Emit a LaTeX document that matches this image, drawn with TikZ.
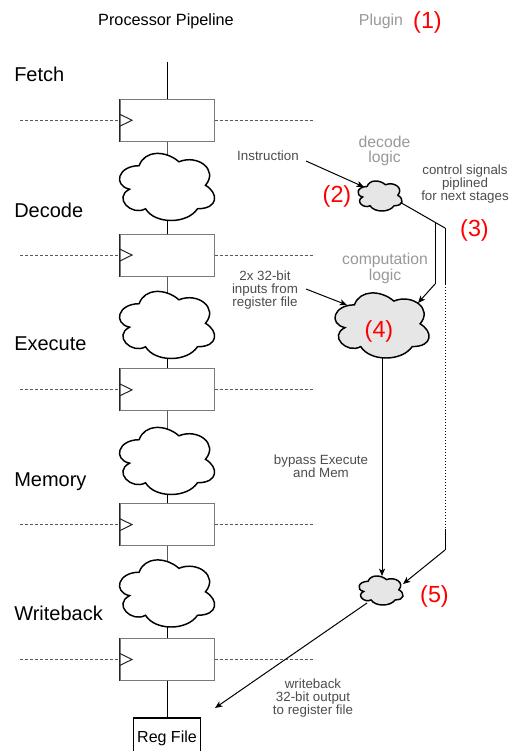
\documentclass[tikz,border=0pt]{standalone}
\usepackage{fontspec}
\setmainfont{Liberation Sans}
\usetikzlibrary{arrows.meta,calc}

\definecolor{labelgray}{HTML}{999999}
\definecolor{notegray}{HTML}{4D4D4D}
\definecolor{plugfill}{HTML}{E6E6E6}
\definecolor{boxgray}{HTML}{7A7A7A}
\definecolor{marker}{HTML}{FF0000}

% draw.io style cloud outline fitted to node #1, whose visible size is #2 x #3 (px)
\newcommand\cloudoutline[4]{%
  \pgfmathsetmacro\cloudw{#2/0.895}%
  \pgfmathsetmacro\cloudh{#3/0.856}%
  \begin{scope}[shift={(#1.center)},shift={(-0.5125*\cloudw,-0.522*\cloudh)},xscale=\cloudw,yscale=\cloudh]
    \path[#4] (0.25,0.25) .. controls (0.05,0.25) and (0,0.5) .. (0.16,0.55)
      .. controls (0,0.66) and (0.18,0.9) .. (0.31,0.8)
      .. controls (0.4,1) and (0.7,1) .. (0.8,0.8)
      .. controls (1,0.8) and (1,0.6) .. (0.875,0.5)
      .. controls (1,0.3) and (0.8,0.1) .. (0.625,0.2)
      .. controls (0.5,0.05) and (0.3,0.05) .. (0.25,0.25) -- cycle;
  \end{scope}}

\tikzset{
  wire/.style={line width=0.75pt, black},
  arr/.style={line width=0.75pt, black, -{Stealth[length=5.5pt,width=4.6pt,inset=1.4pt]}},
  sigdash/.style={line width=0.75pt, black!65, dash pattern=on 2.25pt off 1.5pt},
  dotline/.style={line width=0.75pt, black, dash pattern=on 0.75pt off 1.5pt},
  regbox/.style={draw=boxgray, fill=white, line width=0.75pt, minimum width=70.5pt, minimum height=31.5pt, inner sep=0pt},
  cloudbox/.style={rectangle, inner sep=0pt, outer sep=0pt},
  pipecloud/.style={draw=black, fill=white, line width=1.1pt},
  plugcloud/.style={draw=black, fill=plugfill, line width=1.1pt},
  stage/.style={anchor=base west, inner sep=0pt, font=\fontsize{15}{18}\selectfont},
  note/.style={inner sep=0pt, align=center, text=notegray, font=\fontsize{10}{10}\selectfont},
  logiclbl/.style={inner sep=0pt, align=center, text=labelgray, font=\fontsize{11.8}{10.8}\selectfont},
  redlbl/.style={inner sep=0pt, text=marker, font=\fontsize{17.5}{20}\selectfont},
  regfile/.style={draw=black, fill=white, line width=1.2pt, minimum width=50.25pt, minimum height=30pt, inner sep=0pt, font=\fontsize{12}{14}\selectfont}
}

\begin{document}
\begin{tikzpicture}[x=0.75pt,y=-0.75pt]
\path[use as bounding box, fill=white] (0,0) rectangle (512,751);

% headings
\node[anchor=base, inner sep=0pt, font=\fontsize{12.2}{14}\selectfont] (title) at (166,25) {Processor Pipeline};
\node[anchor=base, inner sep=0pt, text=labelgray, font=\fontsize{11.9}{14}\selectfont] (plugin) at (381,25) {Plugin};
\node[redlbl, anchor=base] (m1) at (427.5,28) {(1)};

% stage names
\node[stage] (sfetch) at (14,81) {Fetch};
\node[stage] (sdecode) at (14,217) {Decode};
\node[stage] (sexec) at (14,350) {Execute};
\node[stage] (smem) at (14,486) {Memory};
\node[stage] (swb) at (14,620) {Writeback};

% pipeline registers with their signal lines and clock inputs
\foreach \k/\y in {1/120.25,2/255.05,3/389.85,4/524.65,5/659.45}{
  \node[regbox] (reg\k) at (167,\y) {};
  \coordinate (dl\k) at (20,\y);
  \coordinate (dr\k) at (314,\y);
  \draw[sigdash] (dl\k) -- (reg\k.west);
  \draw[sigdash] (reg\k.east) -- (dr\k);
  \draw[line width=0.75pt, black!85] (reg\k.south west) -- (reg\k.north west);
  \draw[line width=0.75pt, black!85] ([yshift=4.6pt]reg\k.west) -- ([xshift=9.4pt]reg\k.west) -- ([yshift=-4.6pt]reg\k.west);
}

% combinational logic between the registers
\foreach \k/\y in {1/187,2/325,3/461,4/593.5}{
  \node[cloudbox, minimum width=71.25pt, minimum height=50.25pt] (pc\k) at (167,\y) {};
}

% register file
\node[regfile] (rf) at (167,738) {Reg File};

% main datapath
\coordinate (top) at (167,62);
\draw[wire] (top) -- (reg1.north);
\foreach \a/\b in {1/2,2/3,3/4,4/5}{
  \draw[wire] (reg\a.south) -- (pc\a.center) -- (reg\b.north);
}
\draw[wire] (reg5.south) -- (rf.north);

% plugin clouds
\node[cloudbox, minimum width=33pt, minimum height=22.5pt] (dec) at (380,196) {};
\node[cloudbox, minimum width=70.5pt, minimum height=48.75pt] (comp) at (382,325.5) {};
\node[cloudbox, minimum width=33pt, minimum height=21.75pt] (wbc) at (381,590.5) {};

% labels
\node[note] (instr) at (268,156) {Instruction};
\node[logiclbl] (declbl) at (384.5,151) {decode\\logic};
\node[note] (ctrl) at (465,184) {control signals\\piplined\\for next stages};
\node[logiclbl] (complbl) at (385,268.5) {computation\\logic};
\node[note] (inputs) at (265,290) {2x 32-bit\\inputs from\\register file};
\node[note] (bypass) at (321,466) {bypass Execute\\and Mem};
\node[note] (wbnote) at (313,698) {writeback\\32-bit output\\to register file};

% control signal routing (under the clouds)
\coordinate (cS) at ($(dec.center)+(18,5)$);
\coordinate (cJ) at (445,228);
\coordinate (cB) at (435,222.3);
\coordinate (cB2) at (435,284);
\coordinate (r1) at (445,284);
\coordinate (r2) at (445,529);
\coordinate (r3) at (445,550);
\draw[wire] (cS) -- (cJ);
\coordinate (wS) at ($(wbc.center)+(-14,12.5)$);
\coordinate (wT) at (215,708);
\draw[arr] (wS) -- (wT);

% cloud outlines
\foreach \k in {1,...,4}{ \cloudoutline{pc\k}{95}{67}{pipecloud} }
\cloudoutline{dec}{44}{30}{plugcloud}
\cloudoutline{comp}{94}{65}{plugcloud}
\cloudoutline{wbc}{44}{29}{plugcloud}

% arrows into the plugin clouds
\coordinate (iS) at (306,161);
\draw[arr] (iS) -- ($(dec.center)+(-16,-9)$);
\coordinate (inS) at (306,289);
\draw[arr] (inS) -- ($(comp.center)+(-35,-20.5)$);
\draw[wire] (cB) -- (cB2);
\draw[arr] (cB2) -- ($(comp.center)+(36,-22.5)$);
\draw[wire] (cJ) -- (r1);
\draw[dotline] (r1) -- (r2);
\draw[wire] (r2) -- (r3);
\draw[arr] (r3) -- ($(wbc.center)+(22,-6.5)$);
\draw[arr] (comp.south) -- (comp.south |- wbc.north);

% step markers
\node[redlbl] (m2) at (337,196.5) {(2)};
\node[redlbl] (m3) at (474.5,230) {(3)};
\node[redlbl] (m4) at (379,331) {(4)};
\node[redlbl] (m5) at (434.5,596) {(5)};
\end{tikzpicture}
\end{document}
